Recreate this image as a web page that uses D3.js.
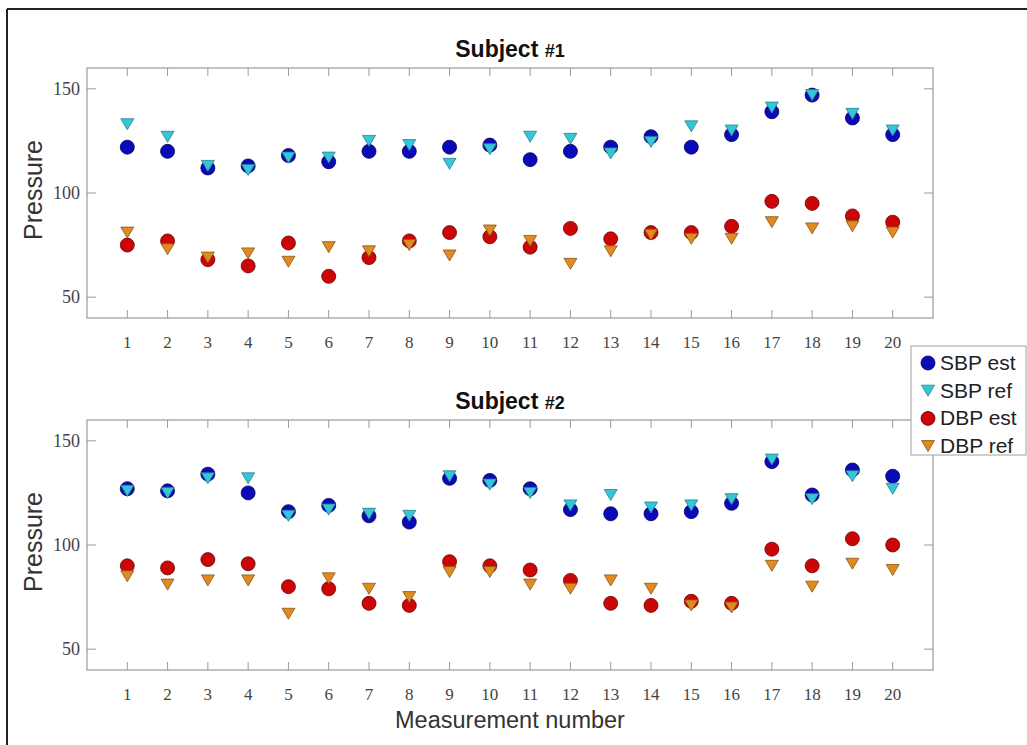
<!DOCTYPE html>
<html lang="en">
<head>
    <meta charset="UTF-8">
    <title>Subject #1 / #2 pressure</title>
    <script src="https://d3js.org/d3.v7.min.js"></script>
    <style>
        body {
            margin: 0;
            background: #fff;
        }
        svg {
            display: block;
        }
    </style>
</head>
<body>
    <div id="container"></div>

    <script>
        // measurement numbers
        const measurements = d3.range(1, 21);

        // subject 1
        const sbpEst1 = [122, 120, 112, 113, 118, 115, 120, 120, 122, 123, 116, 120, 122, 127, 122, 128, 139, 147, 136, 128];
        const sbpRef1 = [133, 127, 113, 111, 117, 117, 125, 123, 114, 121, 127, 126, 119, 124.5, 132, 130, 141, 147, 138, 130];
        const dbpEst1 = [75, 77, 68, 65, 76, 60, 69, 77, 81, 79, 74, 83, 78, 81, 81, 84, 96, 95, 89, 86];
        const dbpRef1 = [81, 73, 69, 71, 67, 74, 72, 75, 70, 82, 77, 66, 72, 80, 78, 78, 86, 83, 84, 81];

        // subject 2
        const sbpEst2 = [127, 126, 134, 125, 116, 119, 114, 111, 132, 131, 127, 117, 115, 115, 116, 120, 140, 124, 136, 133];
        const sbpRef2 = [126, 125, 132, 132, 114, 117, 115, 114, 133, 129, 125, 119, 124, 118, 119, 122, 141, 122, 133, 127];
        const dbpEst2 = [90, 89, 93, 91, 80, 79, 72, 71, 92, 90, 88, 83, 72, 71, 73, 72, 98, 90, 103, 100];
        const dbpRef2 = [85, 81, 83, 83, 67, 84, 79, 75, 87, 87, 81, 79, 83, 79, 71, 70, 90, 80, 91, 88];

        const yTicks = [50, 100, 150];
        const seriesNames = ['SBP est', 'SBP ref', 'DBP est', 'DBP ref'];

        // styles per series
        const styles = {
            'SBP est': {shape: 'circle', fill: '#0a0ab8', stroke: '#00005a'},
            'SBP ref': {shape: 'tri', fill: '#35c6d8', stroke: '#2a8090'},
            'DBP est': {shape: 'circle', fill: '#cc0606', stroke: '#6a0000'},
            'DBP ref': {shape: 'tri', fill: '#e08a22', stroke: '#8a5514'}
        };

        const width = 1027, height = 745;
        const svg = d3.select('#container').append('svg')
            .attr('width', width)
            .attr('height', height);

        // figure frame (left and top edge of the exported picture)
        svg.append('line').attr('x1', 7).attr('y1', 9).attr('x2', width).attr('y2', 9)
            .attr('stroke', '#222').attr('stroke-width', 2);
        svg.append('line').attr('x1', 7).attr('y1', 9).attr('x2', 7).attr('y2', height)
            .attr('stroke', '#222').attr('stroke-width', 2);

        const left = 87, right = 933;
        const x = d3.scaleLinear().domain([0, 21]).range([left, right]);

        const triPath = 'M-6.5,-5.5L6.5,-5.5L0,5.5Z';

        function drawMarker(g, shape, cx, cy, st) {
            if (shape === 'circle') {
                g.append('circle')
                    .attr('cx', cx).attr('cy', cy).attr('r', 7)
                    .attr('fill', st.fill).attr('stroke', st.stroke).attr('stroke-width', 0.8);
            } else {
                g.append('path')
                    .attr('d', triPath)
                    .attr('transform', `translate(${cx},${cy})`)
                    .attr('fill', st.fill).attr('stroke', st.stroke).attr('stroke-width', 0.8);
            }
        }

        function drawPanel(top, title, subNum, series) {
            const bottom = top + 250;
            const y = d3.scaleLinear().domain([40, 160]).range([bottom, top]);
            const g = svg.append('g');

            // box
            g.append('rect')
                .attr('x', left).attr('y', top)
                .attr('width', right - left).attr('height', bottom - top)
                .attr('fill', 'none').attr('stroke', '#9a9a9a').attr('stroke-width', 1.2);

            // x ticks, inside on top and bottom
            g.selectAll('.xt').data(measurements).enter().append('line')
                .attr('x1', d => x(d)).attr('x2', d => x(d))
                .attr('y1', bottom).attr('y2', bottom - 8)
                .attr('stroke', '#9a9a9a');
            g.selectAll('.xt2').data(measurements).enter().append('line')
                .attr('x1', d => x(d)).attr('x2', d => x(d))
                .attr('y1', top).attr('y2', top + 8)
                .attr('stroke', '#9a9a9a');

            // y ticks, inside on left and right
            g.selectAll('.yt').data(yTicks).enter().append('line')
                .attr('x1', left).attr('x2', left + 9)
                .attr('y1', d => y(d)).attr('y2', d => y(d))
                .attr('stroke', '#9a9a9a');
            g.selectAll('.yt2').data(yTicks).enter().append('line')
                .attr('x1', right).attr('x2', right - 9)
                .attr('y1', d => y(d)).attr('y2', d => y(d))
                .attr('stroke', '#9a9a9a');

            // tick labels
            g.selectAll('.xl').data(measurements).enter().append('text')
                .attr('x', d => x(d))
                .attr('y', bottom + 30)
                .attr('text-anchor', 'middle')
                .attr('font-family', '"Liberation Serif", serif')
                .attr('font-size', 17)
                .attr('fill', '#444')
                .text(d => d);
            g.selectAll('.yl').data(yTicks).enter().append('text')
                .attr('x', left - 7)
                .attr('y', d => y(d) + 6)
                .attr('text-anchor', 'end')
                .attr('font-family', '"Liberation Serif", serif')
                .attr('font-size', 18)
                .attr('fill', '#444')
                .text(d => d);

            // y label
            g.append('text')
                .attr('transform', `translate(42,${(top + bottom) / 2 - 3}) rotate(-90)`)
                .attr('text-anchor', 'middle')
                .attr('font-family', '"Liberation Sans", Arial, sans-serif')
                .attr('font-size', 25)
                .attr('fill', '#333')
                .text('Pressure');

            // title
            const t = g.append('text')
                .attr('x', (left + right) / 2)
                .attr('y', top - 11)
                .attr('text-anchor', 'middle')
                .attr('font-family', '"Liberation Sans", Arial, sans-serif')
                .attr('font-weight', 'bold')
                .attr('fill', '#111');
            t.append('tspan').attr('font-size', 23).text(title + ' ');
            t.append('tspan').attr('font-size', 18).text(subNum);

            // markers
            seriesNames.forEach((name, k) => {
                const st = styles[name];
                const vals = series[k];
                const mg = g.append('g');
                vals.forEach((v, i) => drawMarker(mg, st.shape, x(measurements[i]), y(v), st));
            });
        }

        drawPanel(68, 'Subject', '#1', [sbpEst1, sbpRef1, dbpEst1, dbpRef1]);
        drawPanel(420, 'Subject', '#2', [sbpEst2, sbpRef2, dbpEst2, dbpRef2]);

        // x axis label
        svg.append('text')
            .attr('x', 510)
            .attr('y', 728)
            .attr('text-anchor', 'middle')
            .attr('font-family', '"Liberation Sans", Arial, sans-serif')
            .attr('font-size', 23.5)
            .attr('fill', '#333')
            .text('Measurement number');

        // legend
        const legend = svg.append('g');
        legend.append('rect')
            .attr('x', 911).attr('y', 346)
            .attr('width', 115).attr('height', 109)
            .attr('fill', '#fff').attr('stroke', '#a0a0a0');
        seriesNames.forEach((name, i) => {
            const ly = 363 + i * 27.7;
            drawMarker(legend, styles[name].shape, 928, ly, styles[name]);
            legend.append('text')
                .attr('x', 940)
                .attr('y', ly + 7)
                .attr('font-family', '"Liberation Sans", Arial, sans-serif')
                .attr('font-size', 21)
                .attr('fill', '#222')
                .text(name);
        });
    </script>
</body>
</html>
